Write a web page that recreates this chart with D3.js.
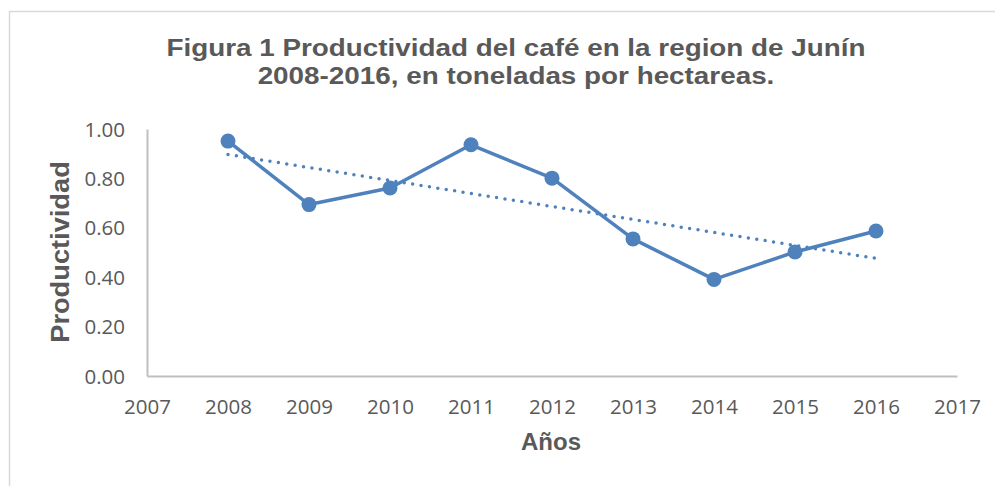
<!DOCTYPE html>
<html>
<head>
<meta charset="utf-8">
<script src="https://cdn.jsdelivr.net/npm/d3@7"></script>
<style>
  body { margin: 0; background: #ffffff; }
  svg { display: block; }
</style>
</head>
<body>
<div id="vis1"></div>
<script>
const frame_height = 486;
const frame_width = 995;
const margins = {left: 147, right: 38, top: 129, bottom: 110};

// data
const years = [2008, 2009, 2010, 2011, 2012, 2013, 2014, 2015, 2016];
const productividad = [0.951, 0.694, 0.761, 0.936, 0.801, 0.555, 0.391, 0.502, 0.587];
const x_ticks = [2007, 2008, 2009, 2010, 2011, 2012, 2013, 2014, 2015, 2016, 2017];
const y_ticks = [0, 0.2, 0.4, 0.6, 0.8, 1.0];
const title_lines = ["Figura 1 Productividad del café en la region de Junín",
                     "2008-2016, en toneladas por hectareas."];

const data = years.map((y, i) => ({year: y, value: productividad[i]}));

const blue = "#4f81bd";
const grey_text = "#595959";

const svg =
d3.select("#vis1")
    .append("svg")
        .attr("height", frame_height)
        .attr("width", frame_width);

// outer chart border (only top and left visible)
svg.append("rect")
    .attr("x", 9.5)
    .attr("y", 11.5)
    .attr("width", frame_width + 20)
    .attr("height", frame_height + 20)
    .attr("fill", "#ffffff")
    .attr("stroke", "#d9d9d9")
    .attr("stroke-width", 1.5);

const x_scale =
d3.scaleLinear()
    .domain([2007, 2017])
    .range([margins.left, frame_width - margins.right]);

const y_scale =
d3.scaleLinear()
    .domain([0, 1])
    .range([frame_height - margins.bottom, margins.top]);

// axes
const xAxis = svg.append("g")
    .attr("transform", "translate(0," + y_scale(0) + ")")
    .call(d3.axisBottom(x_scale).tickValues(x_ticks).tickFormat(d3.format("d")).tickSize(0).tickPadding(23));

const yAxis = svg.append("g")
    .attr("transform", "translate(" + x_scale(2007) + ",0)")
    .call(d3.axisLeft(y_scale).tickValues(y_ticks).tickFormat(d3.format(".2f")).tickSize(0).tickPadding(22));

[xAxis, yAxis].forEach((g) => {
    g.select(".domain").attr("stroke", "#bfbfbf").attr("stroke-width", 2);
    g.selectAll("text")
        .attr("fill", grey_text)
        .attr("font-family", "'Open Sans', sans-serif")
        .attr("font-size", "20.5px");
});
yAxis.selectAll("text").attr("dy", "0.35em");

// linear trendline (least squares over the series)
const mx = d3.mean(data, (d) => d.year);
const my = d3.mean(data, (d) => d.value);
const slope = d3.sum(data, (d) => (d.year - mx) * (d.value - my)) / d3.sum(data, (d) => (d.year - mx) * (d.year - mx));
const trend = [years[0], years[years.length - 1]].map((yr) => ({year: yr, value: my + slope * (yr - mx)}));

const line = d3.line()
    .x((d) => x_scale(d.year))
    .y((d) => y_scale(d.value));

svg.append("path")
    .datum(trend)
    .attr("d", line)
    .attr("fill", "none")
    .attr("stroke", blue)
    .attr("stroke-width", 3.5)
    .attr("stroke-linecap", "round")
    .attr("stroke-dasharray", "0 8.5");

svg.append("path")
    .datum(data)
    .attr("d", line)
    .attr("fill", "none")
    .attr("stroke", blue)
    .attr("stroke-width", 3.5)
    .attr("stroke-linejoin", "round");

svg.selectAll(".dot")
    .data(data)
    .enter()
    .append("circle")
        .attr("class", "dot")
        .attr("cx", (d) => x_scale(d.year))
        .attr("cy", (d) => y_scale(d.value))
        .attr("r", 7.5)
        .attr("fill", blue);

// titles
svg.append("g")
    .attr("transform", "translate(516,0) scale(1.16,1)")
    .append("text")
    .attr("y", 56)
    .attr("text-anchor", "middle")
    .attr("font-family", "'Liberation Sans', Arial, sans-serif")
    .attr("font-weight", "bold")
    .attr("font-size", "24px")
    .attr("fill", grey_text)
    .selectAll("tspan")
    .data(title_lines)
    .enter()
    .append("tspan")
        .attr("x", 0)
        .attr("dy", (d, i) => i === 0 ? 0 : 28.5)
        .text((d) => d);

svg.append("text")
    .attr("x", 551)
    .attr("y", 450)
    .attr("text-anchor", "middle")
    .attr("font-family", "'Liberation Sans', Arial, sans-serif")
    .attr("font-weight", "bold")
    .attr("font-size", "24px")
    .attr("fill", grey_text)
    .text("Años");

svg.append("text")
    .attr("transform", "translate(69,252) rotate(-90) scale(1.09,1)")
    .attr("text-anchor", "middle")
    .attr("font-family", "'Liberation Sans', Arial, sans-serif")
    .attr("font-weight", "bold")
    .attr("font-size", "25px")
    .attr("fill", grey_text)
    .text("Productividad");
</script>
</body>
</html>
